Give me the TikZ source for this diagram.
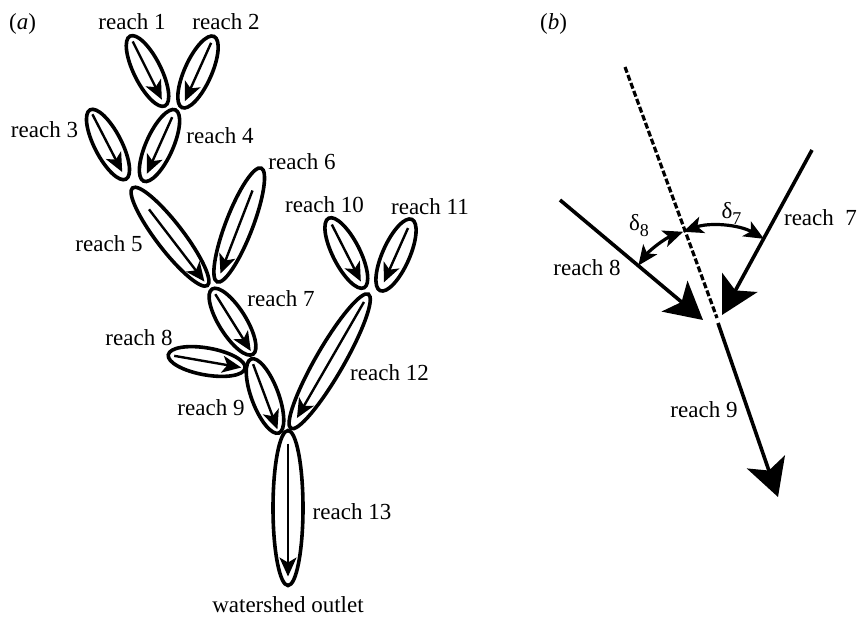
\documentclass[tikz,border=0pt]{standalone}
\usepackage{fontspec}
\setmainfont{Liberation Serif}
\usetikzlibrary{arrows.meta,shapes.geometric}
\tikzset{
reach/.style = {draw, ellipse, line width = 3.6pt, inner sep = 0pt, outer sep = 0pt},
flow/.style = {line width = 2.4pt, -{Stealth[length = 19pt, width = 17pt, inset = 5pt]}},
lbl/.style = {anchor = base, inner sep = 0pt, font = \fontsize{23}{26}\selectfont},
seg/.style = {line width = 3.6pt, -{Stealth[length = 37pt, width = 40pt, inset = 9pt]}},
angarc/.style = {line width = 3.2pt, {Stealth[length = 20pt, width = 17pt, inset = 5pt]}-{Stealth[length = 20pt, width = 17pt, inset = 5pt]}}
}
\newcommand{\delsub}[1]{δ\raisebox{-0.3em}{\fontsize{18}{19}\selectfont #1}}
\begin{document}
\begin{tikzpicture}[x = 1pt, y = -1pt]
\useasboundingbox (0,0) rectangle (861,616);
\node[lbl] (tagA) at (22.5,29.5) {(\textit{a})};
\foreach \n/\x/\y/\ang/\a/\b/\s/\e in {1/147.5/71/-63.4/39/13.5/6/7, 2/198/72/-114.2/39/13.5/7/7, 3/108/144.5/-62.7/39/13.5/5/8, 4/159.5/145.5/-114.1/39/13.5/8/8, 5/170/236.7/-52.5/61.5/13.5/27/5, 6/239.2/225/-111.1/61/13.5/24/9, 7/232.5/321.7/-58/38.5/13.5/6/4, 8/206.7/361.5/-9.9/39/13.5/6/4, 9/265/396/-69.5/39.5/13.5/5.5/4, 10/346.3/253/-63/39/13.5/7/7, 11/396/255/-114/39/13.5/9.5/9, 12/329.7/361.3/-120/77.5/14/9/12, 13/288/508/-90/77.5/15/13/9}
{
\node[reach, minimum width = 2*\a pt, minimum height = 2*\b pt, rotate = \ang] (r\n) at (\x,\y) {};
\draw[flow, shorten <= {\s pt}, shorten >= {\e pt}] (r\n.west) -- (r\n.east);
}
\foreach \n/\x/\y in {1/132/29, 2/226/29, 3/44.5/137, 4/220/143, 5/109/251.7, 6/302/169, 7/281/306.7, 8/139/345, 9/211/415, 10/324.5/212.7, 11/430/214, 12/389.5/380, 13/352/519.3}
\node[lbl] (l\n) at (\x,\y) {reach \n};
\node[lbl] (outlet) at (288,612) {watershed outlet};
\node[lbl] (tagB) at (553.5,29.5) {(\textit{b})};
\coordinate (j) at (716,322);
\coordinate (s8) at (560,200);
\coordinate (t8) at (703,320);
\coordinate (s7) at (812,150);
\coordinate (t7) at (722,315);
\coordinate (d0) at (625,67);
\coordinate (d1) at (717,318);
\coordinate (s9) at (718,323);
\coordinate (t9) at (778,497);
\draw[line width = 3.2pt, dash pattern = on 6pt off 2.5pt] (d0) -- (d1);
\draw[seg] (s8) -- (t8);
\draw[seg] (s7) -- (t7);
\draw[seg] (s9) -- (t9);
\draw[angarc] ([shift = {(216:96)}]j) arc [start angle = 216, end angle = 250, radius = 96];
\draw[angarc] ([shift = {(250:96)}]j) arc [start angle = 250, end angle = 300, radius = 96];
\node[lbl] (del8) at (639,230) {\delsub{8}};
\node[lbl] (del7) at (731.5,218) {\delsub{7}};
\node[lbl] (l8b) at (587,275) {reach 8};
\node[lbl] (l7b) at (820.5,225) {reach\enspace 7};
\node[lbl] (l9b) at (704,417) {reach 9};
\end{tikzpicture}
\end{document}
